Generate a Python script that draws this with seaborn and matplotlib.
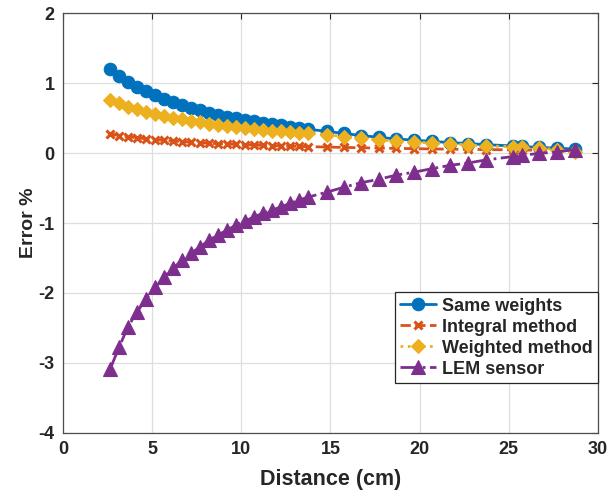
import matplotlib
matplotlib.use("Agg")
import matplotlib.pyplot as plt
import seaborn as sns
import pandas as pd

# Distance from the conductor (cm)
distance = [2.64, 3.15, 3.65, 4.16, 4.66, 5.17, 5.67, 6.18, 6.68, 7.19, 7.69,
            8.20, 8.70, 9.21, 9.71, 10.22, 10.72, 11.23, 11.73, 12.24, 12.74,
            13.25, 13.75, 14.78, 15.74, 16.70, 17.70, 18.70, 19.66, 20.68,
            21.70, 22.70, 23.70, 25.24, 25.72, 26.70, 27.70, 28.70]

# Relative error (%) of each estimation approach
same_weights = [1.20, 1.10, 1.02, 0.95, 0.89, 0.83, 0.775, 0.727, 0.687, 0.648,
                0.611, 0.577, 0.548, 0.519, 0.496, 0.475, 0.455, 0.435, 0.415,
                0.395, 0.375, 0.355, 0.34, 0.31, 0.28, 0.25, 0.225, 0.20,
                0.185, 0.165, 0.15, 0.135, 0.12, 0.10, 0.095, 0.08, 0.07, 0.055]
integral_method = [0.27, 0.25, 0.232, 0.217, 0.203, 0.19, 0.18, 0.17, 0.161,
                   0.153, 0.146, 0.139, 0.133, 0.128, 0.123, 0.118, 0.113,
                   0.109, 0.105, 0.101, 0.097, 0.094, 0.091, 0.085, 0.08,
                   0.075, 0.07, 0.066, 0.062, 0.058, 0.055, 0.052, 0.049,
                   0.045, 0.043, 0.04, 0.037, 0.033]
weighted_method = [0.76, 0.71, 0.662, 0.625, 0.591, 0.558, 0.529, 0.505, 0.482,
                   0.458, 0.439, 0.419, 0.405, 0.386, 0.372, 0.358, 0.345,
                   0.333, 0.321, 0.31, 0.30, 0.29, 0.28, 0.26, 0.235, 0.21,
                   0.19, 0.17, 0.155, 0.145, 0.135, 0.115, 0.10, 0.09, 0.085,
                   0.07, 0.05, 0.015]
lem_sensor = [-3.09, -2.77, -2.48, -2.27, -2.08, -1.92, -1.77, -1.64, -1.535,
              -1.43, -1.34, -1.245, -1.17, -1.10, -1.03, -0.973, -0.91, -0.86,
              -0.815, -0.768, -0.72, -0.67, -0.63, -0.56, -0.49, -0.425,
              -0.376, -0.315, -0.275, -0.224, -0.176, -0.143, -0.10, -0.05,
              -0.035, -0.005, 0.015, 0.05]

series_names = ["Same weights", "Integral method", "Weighted method", "LEM sensor"]
x_ticks = [0, 5, 10, 15, 20, 25, 30]
y_ticks = [-4, -3, -2, -1, 0, 1, 2]

df = pd.DataFrame({
    "Distance": distance * 4,
    "Error": same_weights + integral_method + weighted_method + lem_sensor,
    "Method": sum([[n] * len(distance) for n in series_names], []),
})

styles = {
    "Same weights":    dict(color="#0072BD", marker="o", linestyle="-",  markersize=9,   mew=0.8),
    "Integral method": dict(color="#D95319", marker="x", linestyle="--", markersize=6,   mew=2.2),
    "Weighted method": dict(color="#EDB120", marker="D", linestyle=":",  markersize=7.5, mew=0.8),
    "LEM sensor":      dict(color="#7E2F8E", marker="^", linestyle="-.", markersize=10.5, mew=0.8),
}

sns.set_style("white")
plt.rcParams["font.family"] = ["Liberation Sans", "DejaVu Sans"]
plt.rcParams["font.weight"] = "bold"
plt.rcParams["axes.unicode_minus"] = False

fig = plt.figure(figsize=(6.11, 4.97), dpi=100)
ax = fig.add_axes([0.1031, 0.1288, 0.8756, 0.845])

for name in series_names:
    st = styles[name]
    sub = df[df["Method"] == name]
    sns.lineplot(data=sub, x="Distance", y="Error", ax=ax, label=name,
                 color=st["color"], marker=st["marker"], linestyle=st["linestyle"],
                 markersize=st["markersize"], markeredgewidth=st["mew"],
                 markeredgecolor=st["color"], markerfacecolor=st["color"],
                 linewidth=2.0, sort=False, estimator=None, errorbar=None)

ax.set_xlim(0, 30)
ax.set_ylim(-4, 2)
ax.set_xticks(x_ticks)
ax.set_yticks(y_ticks)
ax.grid(True, color="#dedede", linewidth=0.9)
ax.set_axisbelow(True)
for sp in ax.spines.values():
    sp.set_color("#4d4d4d")
    sp.set_linewidth(0.9)
ax.tick_params(direction="in", length=4, width=0.8, color="#262626",
               top=True, right=True, labelsize=13, labelcolor="#262626", pad=6)
for lab in ax.get_xticklabels() + ax.get_yticklabels():
    lab.set_fontweight("bold")

ax.set_xlabel("Distance (cm)", fontsize=15.5, fontweight="bold", color="#262626", labelpad=8)
ax.set_ylabel("Error %", fontsize=14, fontweight="bold", color="#262626", labelpad=1)

leg = ax.legend(loc="lower right", bbox_to_anchor=(1.0, 0.119), borderaxespad=0.0,
                fontsize=13, frameon=True, fancybox=False, framealpha=1.0,
                edgecolor="#262626", handlelength=2.0, handletextpad=0.3,
                borderpad=0.3, labelspacing=0.22, numpoints=1)
leg.get_frame().set_linewidth(0.9)
for t in leg.get_texts():
    t.set_fontweight("bold")

fig.savefig("out.png", dpi=100)
